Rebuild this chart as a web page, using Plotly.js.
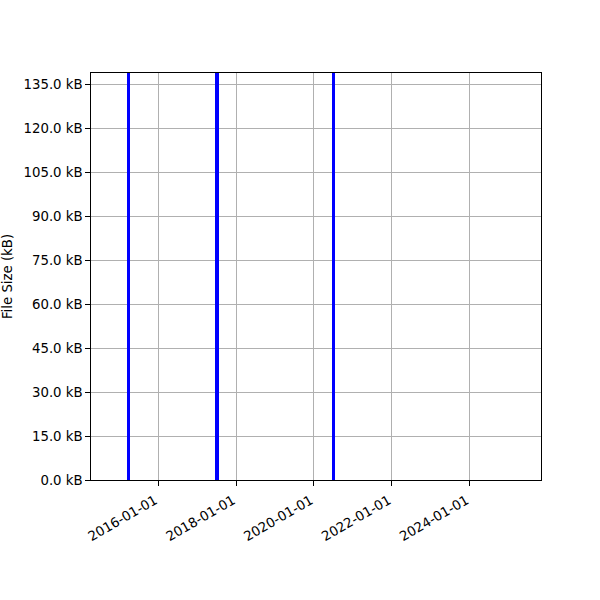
<!DOCTYPE html>
<html>
<head>
<meta charset="utf-8">
<script src="https://cdn.plot.ly/plotly-3.0.1.min.js"></script>
<style>html,body{margin:0;padding:0;background:#fff;}#chart{width:600px;height:600px;}</style>
</head>
<body>
<div id="chart"></div>
<script>
const commitDates = ["2015-03-29", "2017-07-04", "2017-07-15", "2020-07-04"];
const fileSizes = [139, 139, 139, 139];
const yTickVals = [0, 15, 30, 45, 60, 75, 90, 105, 120, 135];
const xTickVals = ["2016-01-01", "2018-01-01", "2020-01-01", "2022-01-01", "2024-01-01"];

const dayMs = 86400000;
const trace = {
  type: "bar",
  x: commitDates,
  y: fileSizes,
  width: commitDates.map(() => 25 * dayMs),
  marker: {color: "#0000ff", line: {width: 0}},
  hoverinfo: "x+y"
};

const axisCommon = {
  showline: true, linecolor: "#000", linewidth: 1, mirror: true,
  ticks: "outside", ticklen: 4.7, tickwidth: 1, tickcolor: "#000",
  showgrid: true, gridcolor: "#b0b0b0", gridwidth: 1,
  zeroline: false,
  tickfont: {family: "DejaVu Sans", size: 13.3, color: "#000"}
};

const layout = {
  width: 600, height: 600,
  margin: {l: 90.7, r: 59.3, t: 72.7, b: 119.7},
  paper_bgcolor: "#fff", plot_bgcolor: "#fff",
  showlegend: false,
  bargap: 0,
  font: {family: "DejaVu Sans", size: 13.3, color: "#000"},
  xaxis: Object.assign({}, axisCommon, {
    type: "date",
    range: ["2014-04-11", "2025-11-02"],
    tickmode: "array",
    tickvals: xTickVals,
    ticktext: xTickVals,
    tickangle: -30,
    ticklabelshift: -3,
    ticklabelstandoff: 2
  }),
  yaxis: Object.assign({}, axisCommon, {
    range: [0, 139],
    tickmode: "array",
    tickvals: yTickVals,
    ticktext: yTickVals.map(v => v.toFixed(1) + " kB"),
    title: {text: "File Size (kB)", font: {family: "DejaVu Sans", size: 13.3, color: "#000"}, standoff: 8}
  })
};

Plotly.newPlot("chart", [trace], layout, {displayModeBar: false, staticPlot: true});
</script>
</body>
</html>
